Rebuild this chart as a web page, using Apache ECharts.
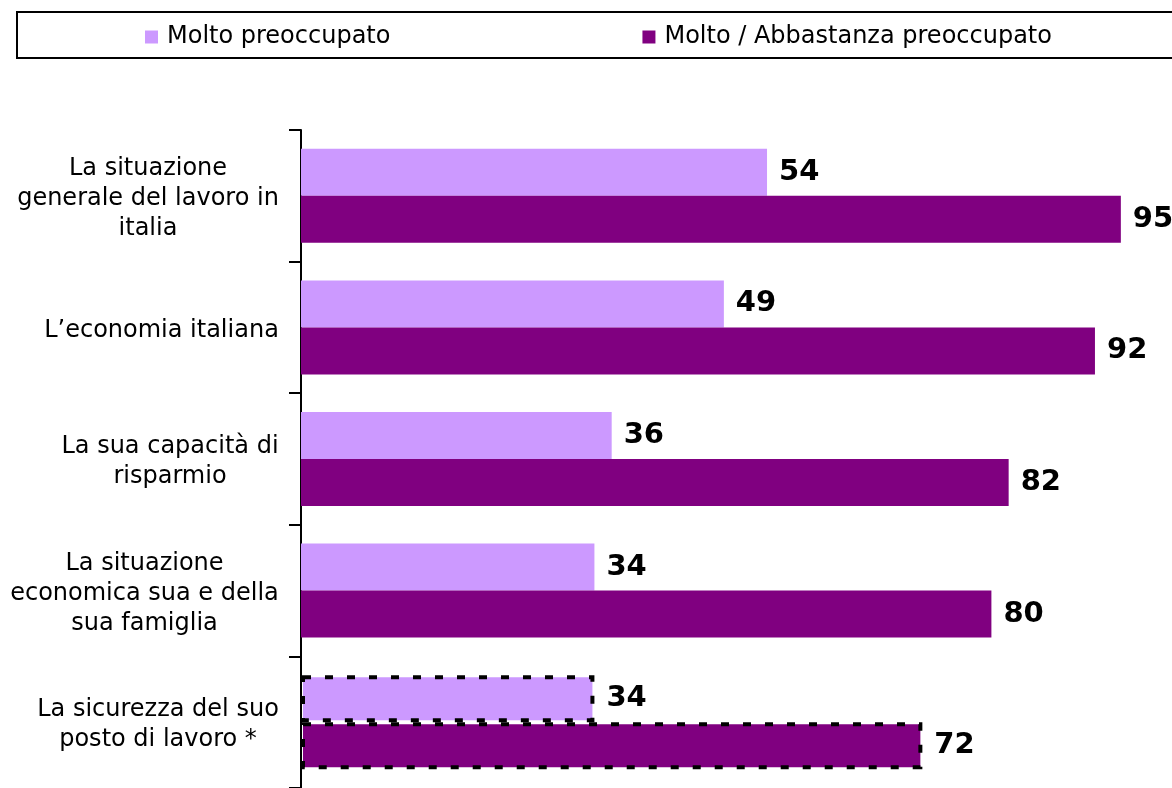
<!DOCTYPE html>
<html>
<head>
<meta charset="utf-8">
<script src="https://cdn.jsdelivr.net/npm/echarts@6/dist/echarts.min.js"></script>
<style>
  html, body { margin: 0; padding: 0; background: #fff; }
  #chart { width: 1172px; height: 788px; }
</style>
</head>
<body>
<div id="chart"></div>
<script>
// categorie e valori
var categories = [
  'La situazione\ngenerale del lavoro in\nitalia',
  'L\u2019economia italiana',
  'La sua capacità di\nrisparmio',
  'La situazione\neconomica sua e della\nsua famiglia',
  'La sicurezza del suo\nposto di lavoro *'
];
var molto = [54, 49, 36, 34, 34];
var abbastanza = [95, 92, 82, 80, 72];
var seriesNames = ['Molto preoccupato', 'Molto / Abbastanza preoccupato'];

var font = 'DejaVu Sans';
var labelSize = 24;

// misura la riga più larga di ogni etichetta (righe centrate, blocco allineato a destra)
var ctx = document.createElement('canvas').getContext('2d');
ctx.font = labelSize + 'px "' + font + '"';
var rich = {};
categories.forEach(function (c, i) {
  var w = 0;
  c.split('\n').forEach(function (l) {
    w = Math.max(w, ctx.measureText(l).width);
  });
  rich['c' + i] = {
    width: Math.ceil(w),
    align: 'center',
    fontFamily: font,
    fontSize: labelSize,
    lineHeight: 30,
    color: '#000'
  };
});

// l'ultima voce ha il bordo tratteggiato
function withBorder(arr) {
  return arr.map(function (v, i) {
    if (i === arr.length - 1) {
      return {
        value: v,
        itemStyle: { borderColor: '#000', borderWidth: 4, borderType: [8, 14] }
      };
    }
    return v;
  });
}

var valueLabel = {
  show: true,
  position: 'right',
  distance: 12,
  color: '#000',
  fontFamily: font,
  fontWeight: 'bold',
  fontSize: 29
};

var myChart = echarts.init(document.getElementById('chart'));
var option = {
  animation: false,
  legend: {
    left: 17,
    top: 12,
    width: 1400,
    padding: [13, 140, 9, 128],
    itemGap: 252,
    itemWidth: 13,
    itemHeight: 13,
    icon: 'rect',
    borderColor: '#000',
    borderWidth: 2,
    textStyle: { fontFamily: font, fontSize: 24, color: '#000', padding: [0, 0, 0, 4] },
    data: seriesNames
  },
  grid: {
    left: 301,
    right: 8,
    top: 130,
    height: 662.5
  },
  xAxis: {
    type: 'value',
    min: 0,
    max: 100,
    show: false
  },
  yAxis: {
    type: 'category',
    inverse: true,
    data: categories,
    axisLine: { show: true, lineStyle: { color: '#000', width: 2 } },
    axisTick: { show: true, length: 12, lineStyle: { color: '#000', width: 2 } },
    axisLabel: {
      margin: 22,
      align: 'right',
      padding: [6, 0, 0, 0],
      formatter: function (v, i) {
        return v.split('\n').map(function (l) {
          return '{c' + i + '|' + l + '}';
        }).join('\n');
      },
      rich: rich
    }
  },
  series: [
    {
      name: seriesNames[0],
      type: 'bar',
      barWidth: 47,
      barGap: '0%',
      itemStyle: { color: '#CC99FF' },
      label: valueLabel,
      data: withBorder(molto)
    },
    {
      name: seriesNames[1],
      type: 'bar',
      barWidth: 47,
      barGap: '0%',
      itemStyle: { color: '#800080' },
      label: valueLabel,
      data: withBorder(abbastanza)
    }
  ]
};
myChart.setOption(option);
</script>
</body>
</html>
